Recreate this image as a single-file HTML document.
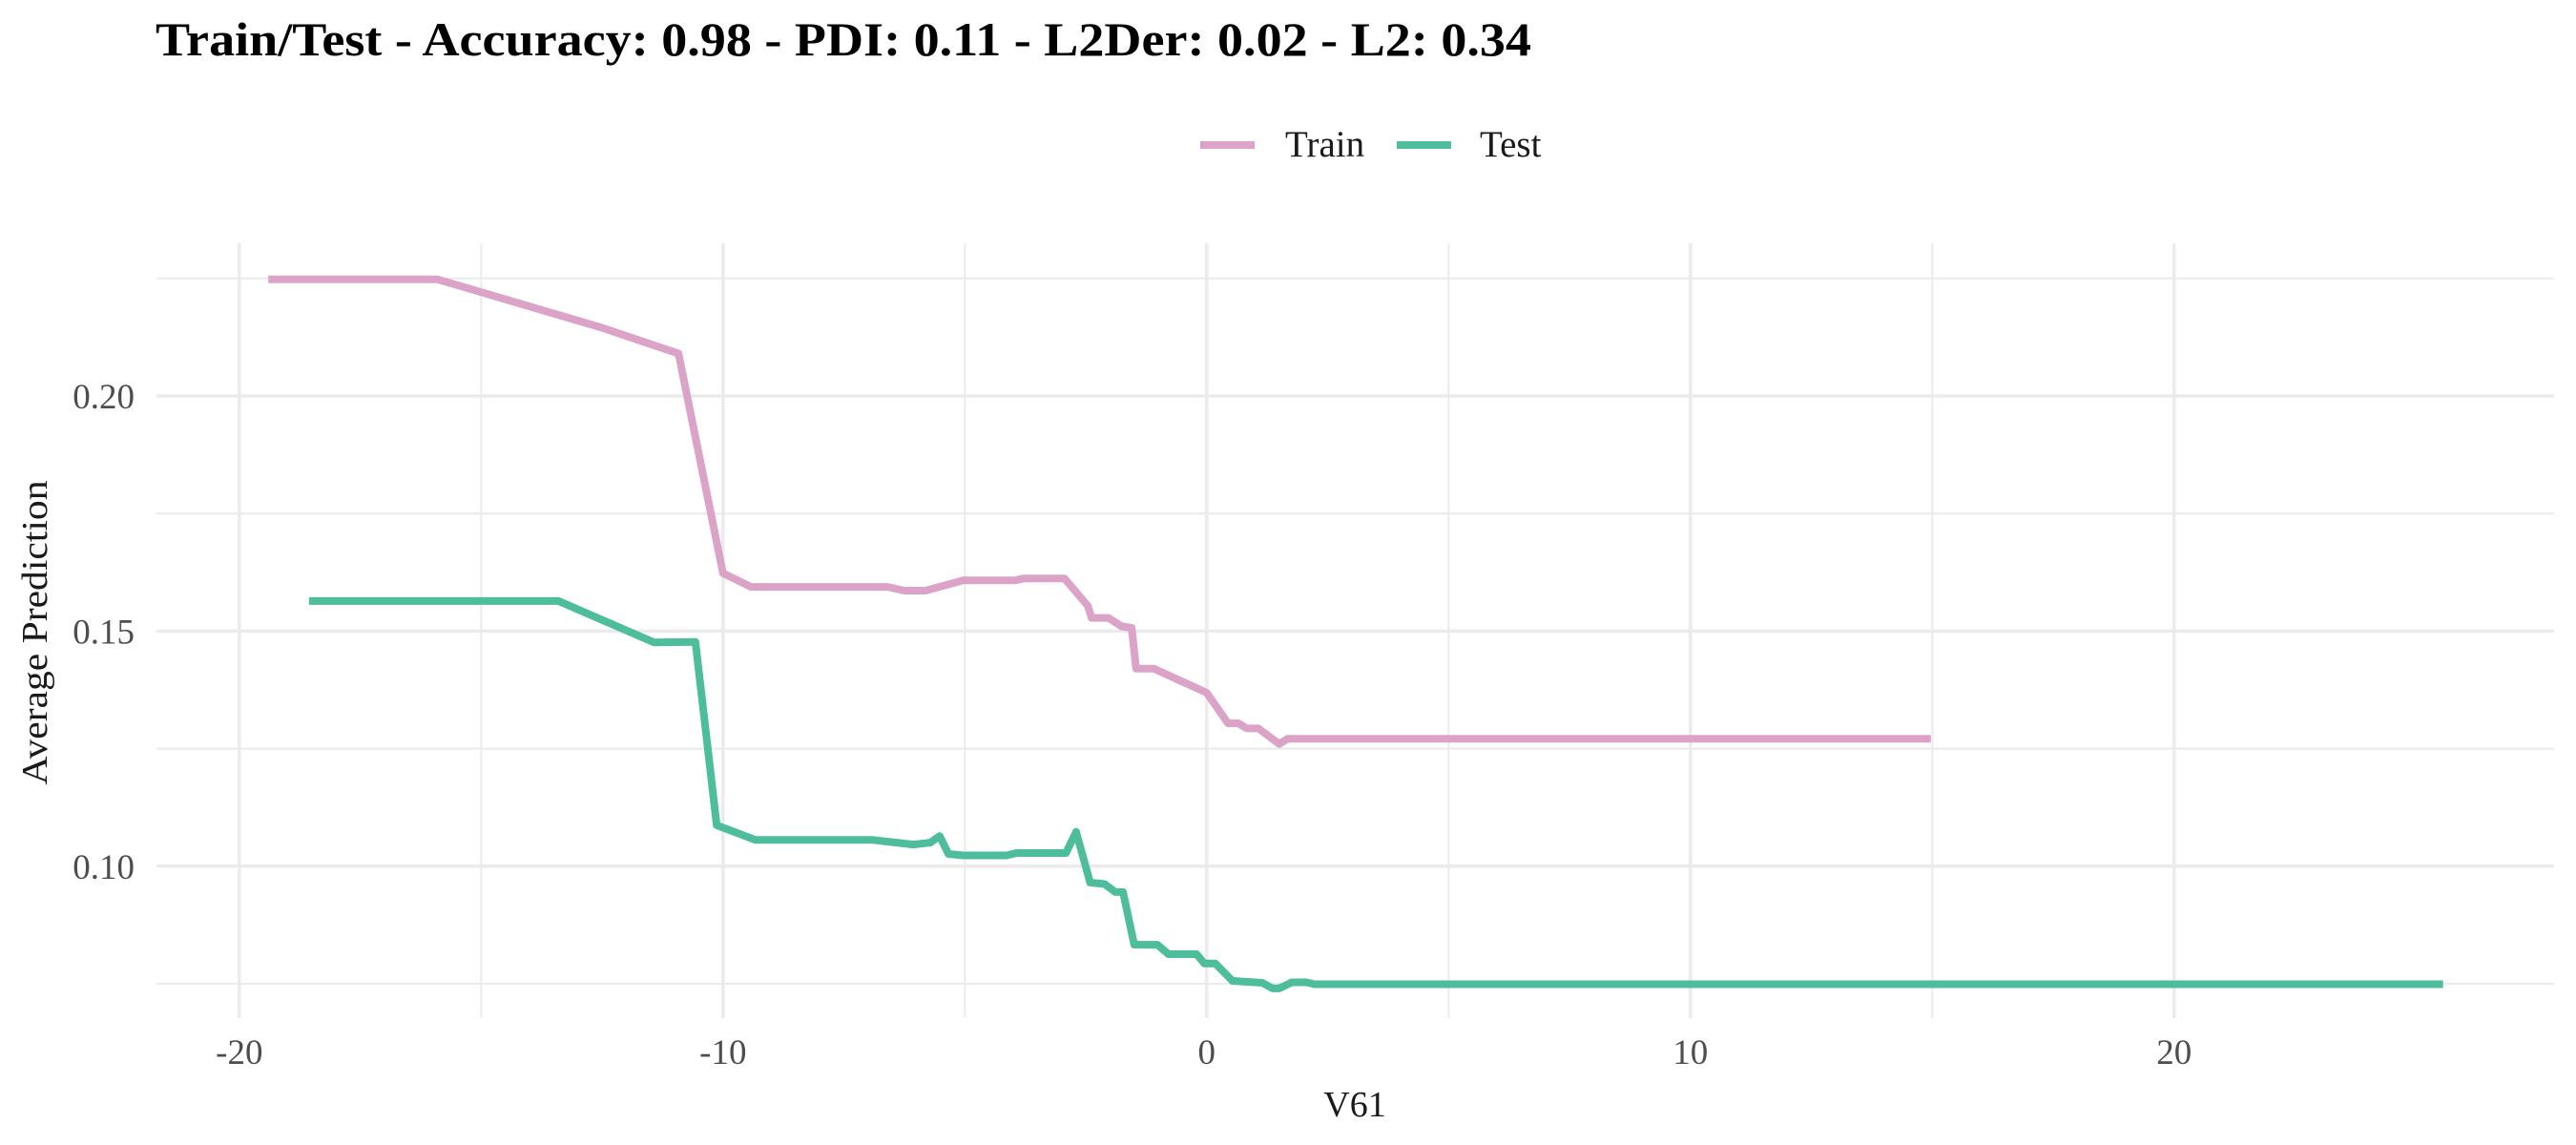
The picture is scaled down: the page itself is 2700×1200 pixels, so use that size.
<!DOCTYPE html>
<html><head><meta charset="utf-8"><style>
html,body{margin:0;padding:0;background:#fff;}
svg{display:block;font-family:"Liberation Serif",serif;}
</style></head><body>
<svg id="chart" width="2700" height="1200" viewBox="0 0 2700 1200">
<text x="163" y="58" font-size="50" font-weight="bold" textLength="1442" lengthAdjust="spacingAndGlyphs">Train/Test - Accuracy: 0.98 - PDI: 0.11 - L2Der: 0.02 - L2: 0.34</text>
<g>
<g><line x1="1258" y1="152" x2="1315" y2="152" stroke="#DBA3C7" stroke-width="8"/><text x="1347" y="164" font-size="39" fill="#1a1a1a">Train</text></g>
<g><line x1="1464" y1="152" x2="1521" y2="152" stroke="#4DBD9C" stroke-width="8"/><text x="1551" y="164" font-size="39" fill="#1a1a1a">Test</text></g>
</g>
<g id="grid"></g>
<g id="series"></g>
<g id="axes"></g>
<text x="1420" y="1170" font-size="38" text-anchor="middle" fill="#1a1a1a">V61</text>
<text transform="translate(49,663) rotate(-90)" font-size="38" text-anchor="middle" fill="#1a1a1a" textLength="319" lengthAdjust="spacingAndGlyphs">Average Prediction</text>
</svg>
<script>
const xTicks = [-20, -10, 0, 10, 20];
const xTickLabels = ["-20", "-10", "0", "10", "20"];
const yTicks = [0.10, 0.15, 0.20];
const yTickLabels = ["0.10", "0.15", "0.20"];
const trainX = [-19.4,-15.9,-12.5,-10.92,-10.0,-9.42,-6.6,-6.25,-5.81,-5.03,-3.96,-3.78,-2.94,-2.46,-2.38,-2.03,-1.76,-1.55,-1.46,-1.09,0,0.44,0.65,0.83,1.07,1.5,1.67,14.97];
const trainY = [0.2248,0.2248,0.2145,0.209,0.1623,0.1594,0.1594,0.1586,0.1586,0.1608,0.1608,0.1612,0.1612,0.1554,0.1528,0.1528,0.151,0.1507,0.142,0.142,0.1369,0.1304,0.1304,0.1293,0.1293,0.126,0.1271,0.1271];
const testX = [-18.56,-13.4,-11.43,-10.57,-10.13,-9.33,-6.92,-6.07,-5.72,-5.52,-5.34,-5.03,-4.14,-3.93,-2.91,-2.7,-2.41,-2.11,-1.89,-1.73,-1.5,-1.02,-0.79,-0.21,-0.05,0.18,0.53,1.15,1.36,1.5,1.76,2.06,2.23,25.56];
const testY = [0.1564,0.1564,0.1476,0.1477,0.1087,0.1056,0.1056,0.1046,0.105,0.1064,0.1026,0.1023,0.1023,0.1028,0.1028,0.1073,0.0965,0.0962,0.0945,0.0945,0.0833,0.0833,0.0813,0.0813,0.0793,0.0793,0.0756,0.0752,0.074,0.074,0.0753,0.0753,0.0749,0.0749];

const NS = "http://www.w3.org/2000/svg";
const px0 = 164, px1 = 2677, py0 = 255, py1 = 1067;
function sx(v){ return 1264.8 + v * 50.7; }
function sy(v){ return 415 + (0.20 - v) * 4928; }
function mk(tag, attrs, parent){ const e = document.createElementNS(NS, tag); for (const k in attrs) e.setAttribute(k, attrs[k]); parent.appendChild(e); return e; }
const grid = document.getElementById('grid');
const axes = document.getElementById('axes');
for (let i = 0; i < xTicks.length - 1; i++) {
  const m = (xTicks[i] + xTicks[i + 1]) / 2;
  const l = mk('line', {x1: sx(m), x2: sx(m), y1: py0, y2: py1, stroke: '#ebebeb', 'stroke-width': 2}, grid);
  
  
}
for (let i = 0; i < yTicks.length; i++) {
  for (const m of [yTicks[i] - 0.025, yTicks[i] + 0.025]) {
    const l = mk('line', {x1: px0, x2: px1, y1: sy(m), y2: sy(m), stroke: '#ebebeb', 'stroke-width': 2}, grid);
    
    
  }
}
for (let i = 0; i < xTicks.length; i++) {
  const x = sx(xTicks[i]);
  const l = mk('line', {x1: x, x2: x, y1: py0, y2: py1, stroke: '#ebebeb', 'stroke-width': 3.5}, grid);
  
  
  const t = mk('text', {x: x, y: 1115, 'font-size': 37, 'text-anchor': 'middle', fill: '#4d4d4d'}, axes);
  t.textContent = xTickLabels[i];
  
  
}
for (let i = 0; i < yTicks.length; i++) {
  const y = sy(yTicks[i]);
  const l = mk('line', {x1: px0, x2: px1, y1: y, y2: y, stroke: '#ebebeb', 'stroke-width': 3.5}, grid);
  
  
  const t = mk('text', {x: 141, y: y + 13, 'font-size': 37, 'text-anchor': 'end', fill: '#4d4d4d'}, axes);
  t.textContent = yTickLabels[i];
  
  
}
const series = document.getElementById('series');
function drawLine(xs, ys, color, name){
  const d = xs.map((x, i) => (i ? 'L' : 'M') + sx(x).toFixed(1) + ' ' + sy(ys[i]).toFixed(1)).join(' ');
  const p = mk('path', {d: d, fill: 'none', stroke: color, 'stroke-width': 8, 'stroke-linejoin': 'round'}, series);
  
  
}
drawLine(trainX, trainY, '#DBA3C7', 'train-line');
drawLine(testX, testY, '#4DBD9C', 'test-line');
</script>
</body></html>
